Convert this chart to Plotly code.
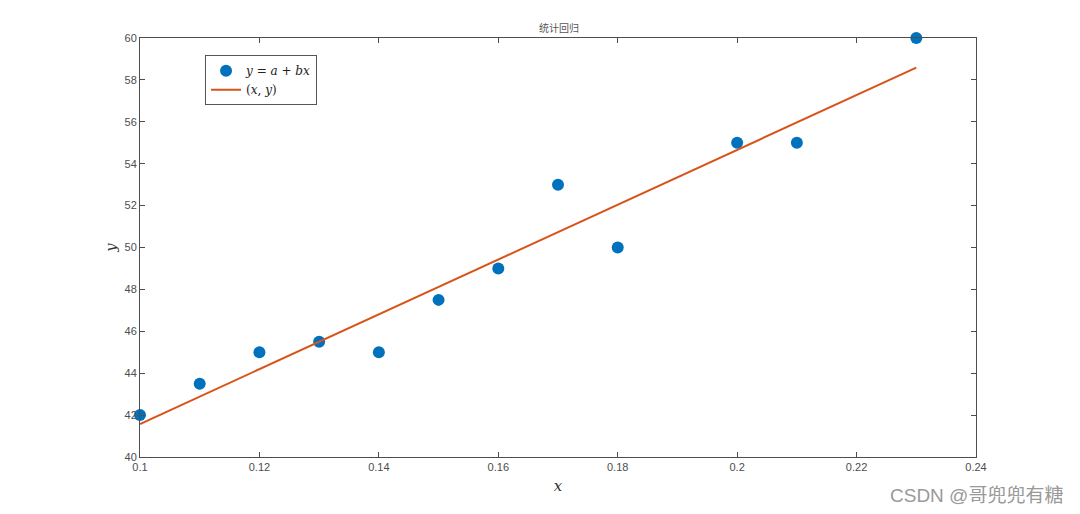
import numpy as np
import plotly.graph_objects as go

x_vals = [0.10, 0.11, 0.12, 0.13, 0.14, 0.15, 0.16, 0.17, 0.18, 0.20, 0.21, 0.23]
y_vals = [42.0, 43.5, 45.0, 45.5, 45.0, 47.5, 49.0, 53.0, 50.0, 55.0, 55.0, 60.0]

x_ticks = [0.1, 0.12, 0.14, 0.16, 0.18, 0.2, 0.22, 0.24]
x_ticktext = ["0.1", "0.12", "0.14", "0.16", "0.18", "0.2", "0.22", "0.24"]
y_ticks = [40, 42, 44, 46, 48, 50, 52, 54, 56, 58, 60]

b, a = np.polyfit(x_vals, y_vals, 1)
fit_x = [min(x_vals), max(x_vals)]
fit_y = [a + b * v for v in fit_x]

fig = go.Figure()
fig.add_trace(go.Scatter(
    x=x_vals, y=y_vals, mode="markers",
    marker=dict(color="#0072BD", size=12, symbol="circle"),
    name="<i>y</i> = <i>a</i> + <i>bx</i>", cliponaxis=False,
))
fig.add_trace(go.Scatter(
    x=fit_x, y=fit_y, mode="lines",
    line=dict(color="#D95319", width=2),
    name="(<i>x</i>, <i>y</i>)",
))

axis_common = dict(
    showgrid=False, zeroline=False, showline=True, linecolor="#4d4d4d", linewidth=1,
    mirror="ticks", ticks="inside", ticklen=5, tickcolor="#4d4d4d",
    tickfont=dict(family="Liberation Sans, Arial", size=11, color="#4d4d4d"),
)

fig.update_layout(
    width=1072, height=506,
    margin=dict(l=132, r=104, t=30, b=57),
    paper_bgcolor="white", plot_bgcolor="white",
    title=dict(text="统计回归", x=0.514, xanchor="center", y=0.9585, yanchor="middle",
               font=dict(family="Noto Sans CJK SC", size=10, color="#555555")),
    xaxis=dict(range=[0.1, 0.24], tickvals=x_ticks, ticktext=x_ticktext,
               title=dict(text="<i>x</i>", standoff=8,
                          font=dict(family="DejaVu Serif, Liberation Serif", size=15, color="#333333")),
               **axis_common),
    yaxis=dict(range=[40, 60], tickvals=y_ticks,
               title=dict(text="<i>y</i>", standoff=4,
                          font=dict(family="DejaVu Serif, Liberation Serif", size=15, color="#333333")),
               **axis_common),
    showlegend=True,
    legend=dict(x=0.0778, y=0.959, xanchor="left", yanchor="top",
                bgcolor="white", bordercolor="#555555", borderwidth=1,
                font=dict(family="DejaVu Serif, Liberation Serif", size=12, color="#222222"),
                tracegroupgap=0, itemwidth=30),
)

fig.add_annotation(text="CSDN @哥兜兜有糖", xref="paper", yref="paper",
                   x=1.1065, y=-0.0907, xanchor="right", yanchor="middle", showarrow=False,
                   font=dict(family="Liberation Sans, Noto Sans CJK SC", size=19, color="#999999"))

fig.write_html("out.html")
